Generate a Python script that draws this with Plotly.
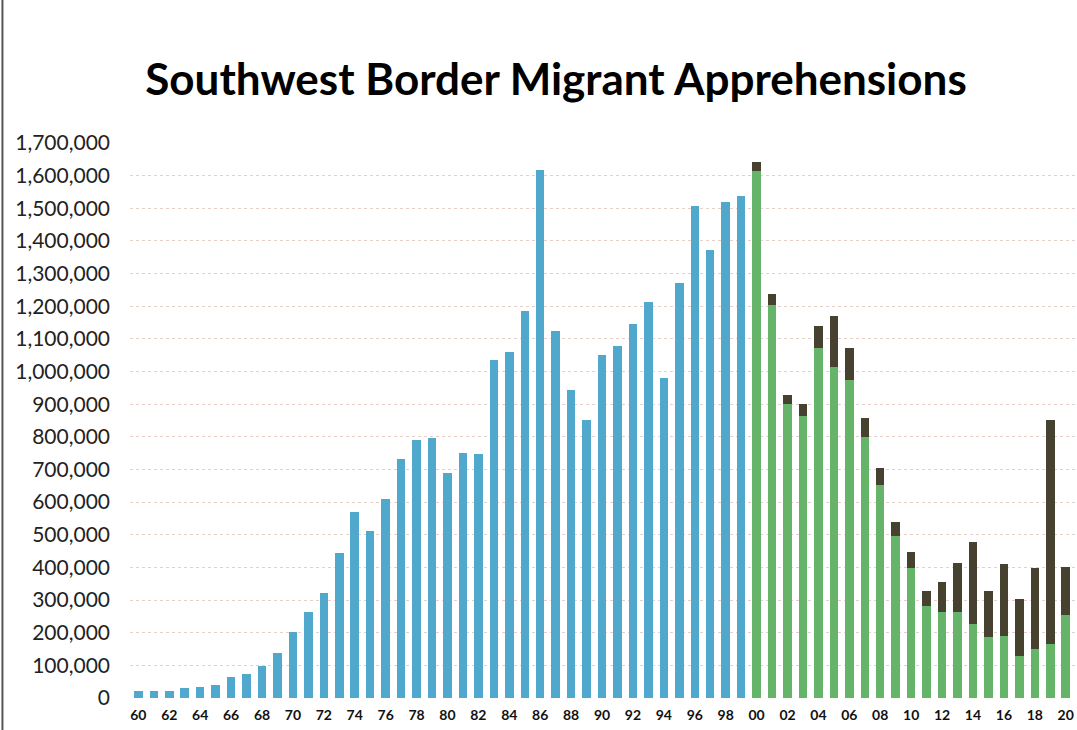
import plotly.graph_objects as go

# Fiscal years and apprehension counts
years_early = list(range(1960, 2000))
apprehensions_early = [
    21000, 22000, 22000, 30000, 34000, 40000, 64000, 74000, 97000, 138000,
    202000, 264000, 322000, 444000, 571000, 511000, 609000, 733000, 790000, 797000,
    690000, 749000, 747000, 1034000, 1059000, 1185000, 1617000, 1124000, 943000, 853000,
    1050000, 1078000, 1146000, 1214000, 980000, 1270000, 1508000, 1371000, 1518000, 1537000,
]

years_late = list(range(2000, 2021))
totals_late = [
    1643000, 1236000, 929000, 902000, 1138000, 1170000, 1072000, 858000, 704000, 538000,
    447000, 327000, 356000, 415000, 478000, 329000, 409000, 303000, 397000, 852000, 400000,
]
mexican_late = [
    1615000, 1204000, 900000, 865000, 1072000, 1015000, 975000, 801000, 651000, 495000,
    398000, 281000, 262000, 264000, 227000, 187000, 190000, 129000, 151000, 165000, 254000,
]
other_late = [t - m for t, m in zip(totals_late, mexican_late)]

tick_years = list(range(1960, 2021, 2))
tick_text = [f"{y % 100:02d}" for y in tick_years]
y_ticks = list(range(0, 1700001, 100000))
y_text = [f"{v:,}" for v in y_ticks]

fig = go.Figure()
fig.add_trace(go.Bar(x=years_early, y=apprehensions_early,
                     marker=dict(color="#50A9CD", line=dict(width=0))))
fig.add_trace(go.Bar(x=years_late, y=mexican_late,
                     marker=dict(color="#66B469", line=dict(width=0))))
fig.add_trace(go.Bar(x=years_late, y=other_late,
                     marker=dict(color="#47412F", line=dict(width=0))))

fig.update_layout(
    width=1077, height=730,
    margin=dict(l=130, r=0, t=143, b=32, autoexpand=False),
    barmode="stack", bargap=0.45, showlegend=False,
    plot_bgcolor="white", paper_bgcolor="white",
    font=dict(family="Lato, sans-serif", color="#111"),
    title=dict(text="<b>Southwest Border Migrant Apprehensions</b>",
               x=556 / 1077, xanchor="center", xref="container",
               y=1 - 80 / 730, yref="container", yanchor="middle",
               font=dict(size=44, color="#000", family="Lato, sans-serif")),
    xaxis=dict(range=[1959.46, 2020.73], tickmode="array", tickvals=tick_years,
               ticktext=tick_text, showgrid=False, zeroline=False, showline=False,
               ticks="", tickfont=dict(size=14, color="#111", family="Lato, sans-serif", weight="bold"),
               ticklabelstandoff=7),
    yaxis=dict(range=[0, 1700000], tickmode="array", tickvals=y_ticks, ticktext=y_text,
               showgrid=True, gridcolor="#E6CFC6", griddash="dot", gridwidth=1,
               zeroline=False, showline=False, ticks="",
               tickfont=dict(size=21, color="#222"), ticklabelstandoff=19),
    shapes=[dict(type="line", xref="paper", yref="paper",
                 x0=-0.1347, x1=-0.1347, y0=-0.06, y1=1.3,
                 line=dict(color="#555", width=2))],
)

fig.write_html("out.html")
